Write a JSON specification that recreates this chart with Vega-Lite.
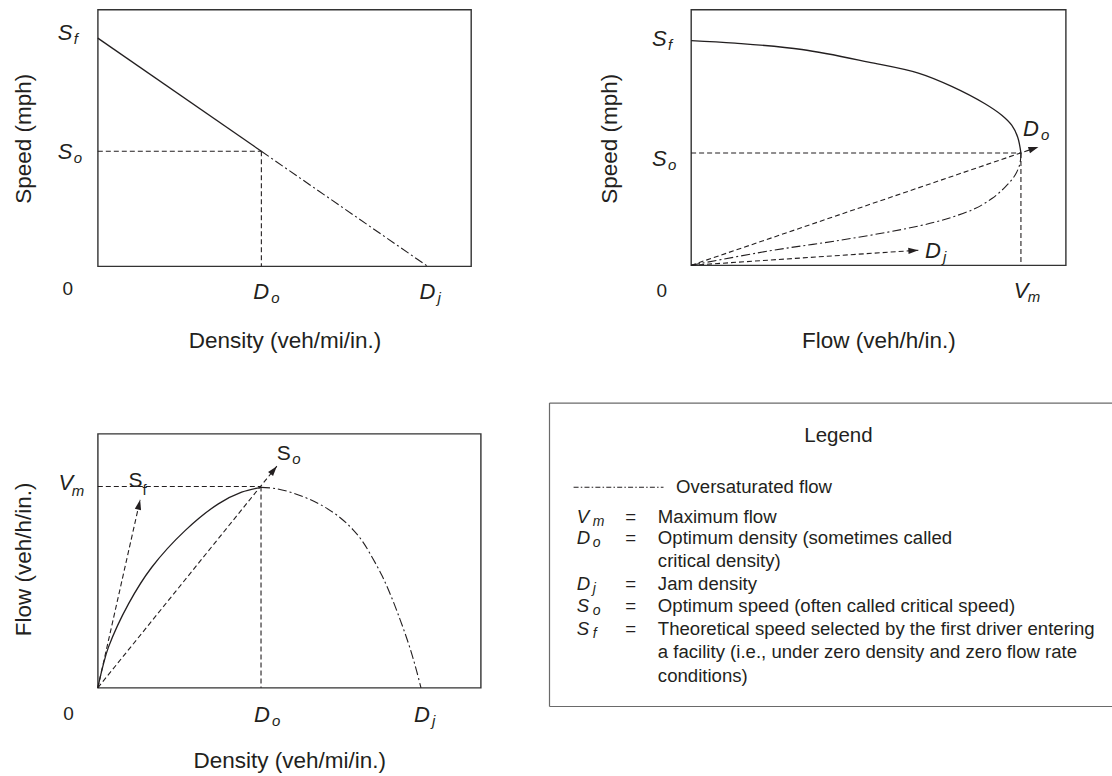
{
  "$schema": "https://vega.github.io/schema/vega-lite/v6.json",
  "background": "white",
  "padding": {"left": 10.8, "top": 8.6, "right": 0, "bottom": 0},
  "autosize": {"type": "pad"},
  "spacing": 49.2,
  "config": {
    "font": "Liberation Sans",
    "view": {"stroke": "#333333", "strokeWidth": 1.4},
    "axis": {"labels": false, "ticks": false, "domain": false, "grid": false, "titleFont": "Liberation Sans", "titleFontSize": 22.5, "titleFontWeight": "normal", "titleColor": "#231f20", "titleBaseline": "middle"},
    "text": {"font": "Liberation Sans", "color": "#231f20"},
    "line": {"color": "#231f20"},
    "rule": {"color": "#231f20"}
  },
  "datasets": {
    "p1": [
      {"seg": "free", "o": 1, "x": 0, "y": 88.9},
      {"seg": "free", "o": 2, "x": 49.6, "y": 44.8},
      {"seg": "sat", "o": 1, "x": 49.6, "y": 44.8},
      {"seg": "sat", "o": 2, "x": 100, "y": 0},
      {"seg": "guide_so", "o": 1, "x": 0, "y": 44.8},
      {"seg": "guide_so", "o": 2, "x": 49.6, "y": 44.8},
      {"seg": "guide_do", "o": 1, "x": 49.6, "y": 44.8},
      {"seg": "guide_do", "o": 2, "x": 49.6, "y": 0}
    ],
    "p1_labels": [
      {"role": "ylab", "x": 0, "y": 91.3, "t": "S", "sub": "f"},
      {"role": "ylab", "x": 0, "y": 44.8, "t": "S", "sub": "o"},
      {"role": "xlab", "x": 49.6, "y": 0, "t": "D", "sub": "o"},
      {"role": "xlab", "x": 100, "y": 0, "t": "D", "sub": "j"},
      {"role": "zero", "x": 0, "y": 0, "t": "0"}
    ],
    "p2": [
      {"seg": "free", "o": 1, "x": 0, "y": 87.9},
      {"seg": "free", "o": 2, "x": 13.3, "y": 86.9},
      {"seg": "free", "o": 3, "x": 33.6, "y": 84.4},
      {"seg": "free", "o": 4, "x": 53.8, "y": 79.5},
      {"seg": "free", "o": 5, "x": 68.9, "y": 75.2},
      {"seg": "free", "o": 6, "x": 79.0, "y": 70.0},
      {"seg": "free", "o": 7, "x": 89.1, "y": 63.2},
      {"seg": "free", "o": 8, "x": 94.2, "y": 58.7},
      {"seg": "free", "o": 9, "x": 97.2, "y": 54.8},
      {"seg": "free", "o": 10, "x": 99.0, "y": 50.2},
      {"seg": "free", "o": 11, "x": 100, "y": 43.9},
      {"seg": "sat", "o": 1, "x": 100, "y": 43.9},
      {"seg": "sat", "o": 2, "x": 99.7, "y": 39.8},
      {"seg": "sat", "o": 3, "x": 98.2, "y": 35.2},
      {"seg": "sat", "o": 4, "x": 95.2, "y": 30.6},
      {"seg": "sat", "o": 5, "x": 91.2, "y": 26.1},
      {"seg": "sat", "o": 6, "x": 86.1, "y": 22.2},
      {"seg": "sat", "o": 7, "x": 80.0, "y": 19.2},
      {"seg": "sat", "o": 8, "x": 74.0, "y": 16.9},
      {"seg": "sat", "o": 9, "x": 63.9, "y": 14.0},
      {"seg": "sat", "o": 10, "x": 43.7, "y": 9.5},
      {"seg": "sat", "o": 11, "x": 23.5, "y": 5.6},
      {"seg": "sat", "o": 12, "x": 0, "y": 0},
      {"seg": "guide_so", "o": 1, "x": 0, "y": 43.9},
      {"seg": "guide_so", "o": 2, "x": 100, "y": 43.9},
      {"seg": "guide_vm", "o": 1, "x": 100, "y": 43.9},
      {"seg": "guide_vm", "o": 2, "x": 100, "y": 0},
      {"seg": "ray_do", "o": 1, "x": 0, "y": 0},
      {"seg": "ray_do", "o": 2, "x": 105.3, "y": 46.3},
      {"seg": "ray_dj", "o": 1, "x": 0, "y": 0},
      {"seg": "ray_dj", "o": 2, "x": 68.9, "y": 5.9}
    ],
    "p2_labels": [
      {"role": "ylab", "x": 0, "y": 89.0, "t": "S", "sub": "f"},
      {"role": "ylab", "x": 0, "y": 41.8, "t": "S", "sub": "o"},
      {"role": "xlab", "x": 100, "y": 0, "t": "V", "sub": "m"},
      {"role": "zero", "x": 0, "y": 0, "t": "0"},
      {"role": "note", "x": 100.6, "y": 53.5, "t": "D", "sub": "o"},
      {"role": "note", "x": 70.9, "y": 5.9, "t": "D", "sub": "j"}
    ],
    "p3": [
      {"seg": "free", "o": 1, "x": 0, "y": 0},
      {"seg": "free", "o": 2, "x": 1.5, "y": 10.3},
      {"seg": "free", "o": 3, "x": 3.3, "y": 20.2},
      {"seg": "free", "o": 4, "x": 9.5, "y": 41.7},
      {"seg": "free", "o": 5, "x": 16.7, "y": 59.9},
      {"seg": "free", "o": 6, "x": 27, "y": 78.1},
      {"seg": "free", "o": 7, "x": 37.3, "y": 91.4},
      {"seg": "free", "o": 8, "x": 44.5, "y": 97.2},
      {"seg": "free", "o": 9, "x": 50.5, "y": 99.6},
      {"seg": "sat", "o": 1, "x": 50.5, "y": 99.6},
      {"seg": "sat", "o": 2, "x": 55, "y": 99.0},
      {"seg": "sat", "o": 3, "x": 60, "y": 97.0},
      {"seg": "sat", "o": 4, "x": 65, "y": 94.0},
      {"seg": "sat", "o": 5, "x": 70, "y": 90.0},
      {"seg": "sat", "o": 6, "x": 75, "y": 84.5},
      {"seg": "sat", "o": 7, "x": 79, "y": 78.5},
      {"seg": "sat", "o": 8, "x": 82, "y": 72.5},
      {"seg": "sat", "o": 9, "x": 85, "y": 64.5},
      {"seg": "sat", "o": 10, "x": 88, "y": 55.5},
      {"seg": "sat", "o": 11, "x": 91, "y": 44.5},
      {"seg": "sat", "o": 12, "x": 93.5, "y": 34},
      {"seg": "sat", "o": 13, "x": 95.5, "y": 25},
      {"seg": "sat", "o": 14, "x": 97.3, "y": 16},
      {"seg": "sat", "o": 15, "x": 98.7, "y": 8},
      {"seg": "sat", "o": 16, "x": 100, "y": 0},
      {"seg": "guide_vm", "o": 1, "x": 0, "y": 100},
      {"seg": "guide_vm", "o": 2, "x": 50.5, "y": 100},
      {"seg": "guide_do", "o": 1, "x": 50.5, "y": 100},
      {"seg": "guide_do", "o": 2, "x": 50.5, "y": 0},
      {"seg": "ray_so", "o": 1, "x": 0, "y": 0},
      {"seg": "ray_so", "o": 2, "x": 55.4, "y": 110.1},
      {"seg": "ray_sf", "o": 1, "x": 0, "y": 0},
      {"seg": "ray_sf", "o": 2, "x": 13.1, "y": 93.4}
    ],
    "p3_labels": [
      {"role": "ylab", "x": 0, "y": 102.1, "t": "V", "sub": "m"},
      {"role": "xlab", "x": 50.5, "y": 0, "t": "D", "sub": "o"},
      {"role": "xlab", "x": 100, "y": 0, "t": "D", "sub": "j"},
      {"role": "zero", "x": 0, "y": 0, "t": "0"},
      {"role": "note", "x": 9.5, "y": 103.3, "t": "S", "sub": "f"},
      {"role": "note", "x": 55.4, "y": 116.5, "t": "S", "sub": "o"}
    ],
    "legend_head": [{"text": "Legend", "line": 0.075}],
    "legend_key": [{"text": "Oversaturated flow", "line": 2.35}],
    "legend_items": [
      {"line": 3.64, "sym": "V", "sub": "m", "eq": "=", "desc": "Maximum flow"},
      {"line": 4.58, "sym": "D", "sub": "o", "eq": "=", "desc": "Optimum density (sometimes called"},
      {"line": 5.61, "desc": "critical density)"},
      {"line": 6.60, "sym": "D", "sub": "j", "eq": "=", "desc": "Jam density"},
      {"line": 7.56, "sym": "S", "sub": "o", "eq": "=", "desc": "Optimum speed (often called critical speed)"},
      {"line": 8.58, "sym": "S", "sub": "f", "eq": "=", "desc": "Theoretical speed selected by the first driver entering"},
      {"line": 9.61, "desc": "a facility (i.e., under zero density and zero flow rate"},
      {"line": 10.64, "desc": "conditions)"}
    ]
  },
  "vconcat": [
    {
      "hconcat": [
        {
          "width": 373.3,
          "height": 256.7,
          "data": {"name": "p1"},
          "encoding": {
            "x": {"field": "x", "type": "quantitative", "scale": {"domain": [0, 113.2], "nice": false, "zero": false}, "axis": {"title": "Density (veh/mi/in.)", "titleY": 74}},
            "y": {"field": "y", "type": "quantitative", "scale": {"domain": [0, 100], "nice": false, "zero": false}, "axis": {"title": "Speed (mph)", "titleX": -74.5, "titleY": 128.7}}
          },
          "layer": [
            {"transform": [{"filter": {"field": "seg", "equal": "free"}}], "mark": {"type": "line", "strokeWidth": 1.3}, "encoding": {"order": {"field": "o", "type": "quantitative"}}},
            {"transform": [{"filter": {"field": "seg", "equal": "sat"}}], "mark": {"type": "line", "strokeWidth": 1.1, "strokeDash": [9, 3, 2, 3]}, "encoding": {"order": {"field": "o", "type": "quantitative"}}},
            {"transform": [{"filter": {"field": "seg", "oneOf": ["guide_so", "guide_do"]}}], "mark": {"type": "line", "strokeWidth": 1.1, "strokeDash": [5, 3]}, "encoding": {"detail": {"field": "seg"}, "order": {"field": "o", "type": "quantitative"}}},
            {"data": {"name": "p1_labels"}, "transform": [{"filter": {"field": "role", "equal": "ylab"}}], "mark": {"type": "text", "align": "left", "baseline": "middle", "dx": -40, "dy": 1, "fontSize": 22, "fontStyle": "italic"}, "encoding": {"text": {"field": "t"}}},
            {"data": {"name": "p1_labels"}, "transform": [{"filter": {"field": "role", "equal": "ylab"}}], "mark": {"type": "text", "align": "left", "baseline": "middle", "dx": -24, "dy": 7, "fontSize": 15, "fontStyle": "italic"}, "encoding": {"text": {"field": "sub"}}},
            {"data": {"name": "p1_labels"}, "transform": [{"filter": {"field": "role", "equal": "xlab"}}], "mark": {"type": "text", "align": "left", "baseline": "middle", "dx": -8, "dy": 26, "fontSize": 22, "fontStyle": "italic"}, "encoding": {"text": {"field": "t"}}},
            {"data": {"name": "p1_labels"}, "transform": [{"filter": {"field": "role", "equal": "xlab"}}], "mark": {"type": "text", "align": "left", "baseline": "middle", "dx": 10, "dy": 32, "fontSize": 15, "fontStyle": "italic"}, "encoding": {"text": {"field": "sub"}}},
            {"data": {"name": "p1_labels"}, "transform": [{"filter": {"field": "role", "equal": "zero"}}], "mark": {"type": "text", "align": "center", "baseline": "middle", "dx": -30, "dy": 22.3, "fontSize": 19}, "encoding": {"text": {"field": "t"}}}
          ]
        },
        {
          "width": 374.7,
          "height": 255.7,
          "data": {"name": "p2"},
          "encoding": {
            "x": {"field": "x", "type": "quantitative", "scale": {"domain": [0, 113.6], "nice": false, "zero": false}, "axis": {"title": "Flow (veh/h/in.)", "titleY": 75}},
            "y": {"field": "y", "type": "quantitative", "scale": {"domain": [0, 100], "nice": false, "zero": false}, "axis": {"title": "Speed (mph)", "titleX": -82, "titleY": 128.7}}
          },
          "layer": [
            {"transform": [{"filter": {"field": "seg", "equal": "free"}}], "mark": {"type": "line", "strokeWidth": 1.3, "interpolate": "catmull-rom"}, "encoding": {"order": {"field": "o", "type": "quantitative"}}},
            {"transform": [{"filter": {"field": "seg", "equal": "sat"}}], "mark": {"type": "line", "strokeWidth": 1.1, "strokeDash": [9, 3, 2, 3], "interpolate": "catmull-rom"}, "encoding": {"order": {"field": "o", "type": "quantitative"}}},
            {"transform": [{"filter": {"field": "seg", "oneOf": ["guide_so", "guide_vm", "ray_do", "ray_dj"]}}], "mark": {"type": "line", "strokeWidth": 1.1, "strokeDash": [5, 3]}, "encoding": {"detail": {"field": "seg"}, "order": {"field": "o", "type": "quantitative"}}},
            {"transform": [{"filter": "datum.seg === 'ray_do' && datum.o === 2"}], "mark": {"type": "point", "shape": "M0,0L-1,-0.32L-1,0.32Z", "filled": true, "size": 400, "angle": -18.8, "opacity": 1, "color": "#231f20", "strokeWidth": 0}},
            {"transform": [{"filter": "datum.seg === 'ray_dj' && datum.o === 2"}], "mark": {"type": "point", "shape": "M0,0L-1,-0.32L-1,0.32Z", "filled": true, "size": 400, "angle": -3.8, "opacity": 1, "color": "#231f20", "strokeWidth": 0}},
            {"data": {"name": "p2_labels"}, "transform": [{"filter": {"field": "role", "equal": "ylab"}}], "mark": {"type": "text", "align": "left", "baseline": "middle", "dx": -39, "dy": 1, "fontSize": 22, "fontStyle": "italic"}, "encoding": {"text": {"field": "t"}}},
            {"data": {"name": "p2_labels"}, "transform": [{"filter": {"field": "role", "equal": "ylab"}}], "mark": {"type": "text", "align": "left", "baseline": "middle", "dx": -23, "dy": 7, "fontSize": 15, "fontStyle": "italic"}, "encoding": {"text": {"field": "sub"}}},
            {"data": {"name": "p2_labels"}, "transform": [{"filter": {"field": "role", "equal": "xlab"}}], "mark": {"type": "text", "align": "left", "baseline": "middle", "dx": -7.3, "dy": 26, "fontSize": 22, "fontStyle": "italic"}, "encoding": {"text": {"field": "t"}}},
            {"data": {"name": "p2_labels"}, "transform": [{"filter": {"field": "role", "equal": "xlab"}}], "mark": {"type": "text", "align": "left", "baseline": "middle", "dx": 6.7, "dy": 32, "fontSize": 15, "fontStyle": "italic"}, "encoding": {"text": {"field": "sub"}}},
            {"data": {"name": "p2_labels"}, "transform": [{"filter": {"field": "role", "equal": "zero"}}], "mark": {"type": "text", "align": "center", "baseline": "middle", "dx": -29.3, "dy": 25.3, "fontSize": 19}, "encoding": {"text": {"field": "t"}}},
            {"data": {"name": "p2_labels"}, "transform": [{"filter": {"field": "role", "equal": "note"}}], "mark": {"type": "text", "align": "left", "baseline": "middle", "dx": 0, "dy": 1, "fontSize": 22, "fontStyle": "italic"}, "encoding": {"text": {"field": "t"}}},
            {"data": {"name": "p2_labels"}, "transform": [{"filter": {"field": "role", "equal": "note"}}], "mark": {"type": "text", "align": "left", "baseline": "middle", "dx": 18, "dy": 7, "fontSize": 15, "fontStyle": "italic"}, "encoding": {"text": {"field": "sub"}}}
          ]
        }
      ],
      "spacing": 219.3,
      "bounds": "flush"
    },
    {
      "hconcat": [
        {
          "width": 383,
          "height": 254,
          "data": {"name": "p3"},
          "encoding": {
            "x": {"field": "x", "type": "quantitative", "scale": {"domain": [0, 118.5], "nice": false, "zero": false}, "axis": {"title": "Density (veh/mi/in.)", "titleY": 73}},
            "y": {"field": "y", "type": "quantitative", "scale": {"domain": [0, 126.2], "nice": false, "zero": false}, "axis": {"title": "Flow (veh/h/in.)", "titleX": -74.5, "titleY": 125}}
          },
          "layer": [
            {"transform": [{"filter": {"field": "seg", "equal": "free"}}], "mark": {"type": "line", "strokeWidth": 1.3, "interpolate": "catmull-rom"}, "encoding": {"order": {"field": "o", "type": "quantitative"}}},
            {"transform": [{"filter": {"field": "seg", "equal": "sat"}}], "mark": {"type": "line", "strokeWidth": 1.1, "strokeDash": [9, 3, 2, 3], "interpolate": "catmull-rom"}, "encoding": {"order": {"field": "o", "type": "quantitative"}}},
            {"transform": [{"filter": {"field": "seg", "oneOf": ["guide_vm", "guide_do", "ray_so", "ray_sf"]}}], "mark": {"type": "line", "strokeWidth": 1.1, "strokeDash": [5, 3]}, "encoding": {"detail": {"field": "seg"}, "order": {"field": "o", "type": "quantitative"}}},
            {"transform": [{"filter": "datum.seg === 'ray_so' && datum.o === 2"}], "mark": {"type": "point", "shape": "M0,0L-1,-0.32L-1,0.32Z", "filled": true, "size": 400, "angle": -51, "opacity": 1, "color": "#231f20", "strokeWidth": 0}},
            {"transform": [{"filter": "datum.seg === 'ray_sf' && datum.o === 2"}], "mark": {"type": "point", "shape": "M0,0L-1,-0.32L-1,0.32Z", "filled": true, "size": 400, "angle": -77.3, "opacity": 1, "color": "#231f20", "strokeWidth": 0}},
            {"data": {"name": "p3_labels"}, "transform": [{"filter": {"field": "role", "equal": "ylab"}}], "mark": {"type": "text", "align": "left", "baseline": "middle", "dx": -39.3, "dy": 1, "fontSize": 22, "fontStyle": "italic"}, "encoding": {"text": {"field": "t"}}},
            {"data": {"name": "p3_labels"}, "transform": [{"filter": {"field": "role", "equal": "ylab"}}], "mark": {"type": "text", "align": "left", "baseline": "middle", "dx": -26, "dy": 9, "fontSize": 15, "fontStyle": "italic"}, "encoding": {"text": {"field": "sub"}}},
            {"data": {"name": "p3_labels"}, "transform": [{"filter": {"field": "role", "equal": "xlab"}}], "mark": {"type": "text", "align": "left", "baseline": "middle", "dx": -7, "dy": 27, "fontSize": 22, "fontStyle": "italic"}, "encoding": {"text": {"field": "t"}}},
            {"data": {"name": "p3_labels"}, "transform": [{"filter": {"field": "role", "equal": "xlab"}}], "mark": {"type": "text", "align": "left", "baseline": "middle", "dx": 11, "dy": 33, "fontSize": 15, "fontStyle": "italic"}, "encoding": {"text": {"field": "sub"}}},
            {"data": {"name": "p3_labels"}, "transform": [{"filter": {"field": "role", "equal": "zero"}}], "mark": {"type": "text", "align": "center", "baseline": "middle", "dx": -29.3, "dy": 26.4, "fontSize": 19}, "encoding": {"text": {"field": "t"}}},
            {"data": {"name": "p3_labels"}, "transform": [{"filter": {"field": "role", "equal": "note"}}], "mark": {"type": "text", "align": "left", "baseline": "middle", "dx": 0, "dy": 1, "fontSize": 21}, "encoding": {"text": {"field": "t"}}},
            {"data": {"name": "p3_labels"}, "transform": [{"filter": "datum.role === 'note' && datum.sub === 'f'"}], "mark": {"type": "text", "align": "left", "baseline": "middle", "dx": 14, "dy": 10.5, "fontSize": 15}, "encoding": {"text": {"field": "sub"}}},
            {"data": {"name": "p3_labels"}, "transform": [{"filter": "datum.role === 'note' && datum.sub === 'o'"}], "mark": {"type": "text", "align": "left", "baseline": "middle", "dx": 15.5, "dy": 6, "fontSize": 15, "fontStyle": "italic"}, "encoding": {"text": {"field": "sub"}}}
          ]
        },
        {
          "width": 564.3,
          "height": 272.7,
          "view": {"stroke": null},
          "layer": [
            {"data": {"name": "legend_head"}, "mark": {"type": "rule", "color": "#6a6a6a", "strokeWidth": 1.2}, "encoding": {"x": {"datum": 0, "type": "quantitative", "scale": {"domain": [0, 30], "nice": false, "zero": false}, "axis": null}, "x2": {"datum": 29.95}, "y": {"datum": -1.35, "type": "quantitative", "scale": {"domain": [0, 12], "reverse": true, "nice": false, "zero": false}, "axis": null}}},
            {"data": {"name": "legend_head"}, "mark": {"type": "rule", "color": "#6a6a6a", "strokeWidth": 1.2}, "encoding": {"x": {"datum": 0, "type": "quantitative", "scale": {"domain": [0, 30], "nice": false, "zero": false}, "axis": null}, "x2": {"datum": 29.95}, "y": {"datum": 12, "type": "quantitative", "scale": {"domain": [0, 12], "reverse": true, "nice": false, "zero": false}, "axis": null}}},
            {"data": {"name": "legend_head"}, "mark": {"type": "rule", "color": "#6a6a6a", "strokeWidth": 1.2}, "encoding": {"x": {"datum": 0, "type": "quantitative", "scale": {"domain": [0, 30], "nice": false, "zero": false}, "axis": null}, "y": {"datum": -1.35, "type": "quantitative", "scale": {"domain": [0, 12], "reverse": true, "nice": false, "zero": false}, "axis": null}, "y2": {"datum": 12}}},
            {"data": {"name": "legend_head"}, "mark": {"type": "text", "align": "center", "baseline": "middle", "fontSize": 20.5}, "encoding": {"x": {"datum": 15.36, "type": "quantitative", "scale": {"domain": [0, 30], "nice": false, "zero": false}, "axis": null}, "y": {"field": "line", "type": "quantitative", "scale": {"domain": [0, 12], "reverse": true, "nice": false, "zero": false}, "axis": null}, "text": {"field": "text"}}},
            {"data": {"name": "legend_key"}, "mark": {"type": "rule", "strokeWidth": 1.1, "strokeDash": [5, 2.2, 1.5, 2.2]}, "encoding": {"x": {"datum": 1.28, "type": "quantitative", "scale": {"domain": [0, 30], "nice": false, "zero": false}, "axis": null}, "x2": {"datum": 6.06}, "y": {"field": "line", "type": "quantitative", "scale": {"domain": [0, 12], "reverse": true, "nice": false, "zero": false}, "axis": null}}},
            {"data": {"name": "legend_key"}, "mark": {"type": "text", "align": "left", "baseline": "middle", "fontSize": 18.6}, "encoding": {"x": {"datum": 6.73, "type": "quantitative", "scale": {"domain": [0, 30], "nice": false, "zero": false}, "axis": null}, "y": {"field": "line", "type": "quantitative", "scale": {"domain": [0, 12], "reverse": true, "nice": false, "zero": false}, "axis": null}, "text": {"field": "text"}}},
            {"data": {"name": "legend_items"}, "transform": [{"filter": "isValid(datum.sym)"}], "mark": {"type": "text", "align": "left", "baseline": "middle", "fontSize": 18.6, "fontStyle": "italic"}, "encoding": {"x": {"datum": 1.45, "type": "quantitative", "scale": {"domain": [0, 30], "nice": false, "zero": false}, "axis": null}, "y": {"field": "line", "type": "quantitative", "scale": {"domain": [0, 12], "reverse": true, "nice": false, "zero": false}, "axis": null}, "text": {"field": "sym"}}},
            {"data": {"name": "legend_items"}, "transform": [{"filter": "isValid(datum.sub)"}], "mark": {"type": "text", "align": "left", "baseline": "middle", "fontSize": 14, "fontStyle": "italic", "dx": 16, "dy": 5.5}, "encoding": {"x": {"datum": 1.45, "type": "quantitative", "scale": {"domain": [0, 30], "nice": false, "zero": false}, "axis": null}, "y": {"field": "line", "type": "quantitative", "scale": {"domain": [0, 12], "reverse": true, "nice": false, "zero": false}, "axis": null}, "text": {"field": "sub"}}},
            {"data": {"name": "legend_items"}, "transform": [{"filter": "isValid(datum.eq)"}], "mark": {"type": "text", "align": "center", "baseline": "middle", "fontSize": 18.6}, "encoding": {"x": {"datum": 4.32, "type": "quantitative", "scale": {"domain": [0, 30], "nice": false, "zero": false}, "axis": null}, "y": {"field": "line", "type": "quantitative", "scale": {"domain": [0, 12], "reverse": true, "nice": false, "zero": false}, "axis": null}, "text": {"field": "eq"}}},
            {"data": {"name": "legend_items"}, "mark": {"type": "text", "align": "left", "baseline": "middle", "fontSize": 18.6}, "encoding": {"x": {"datum": 5.76, "type": "quantitative", "scale": {"domain": [0, 30], "nice": false, "zero": false}, "axis": null}, "y": {"field": "line", "type": "quantitative", "scale": {"domain": [0, 12], "reverse": true, "nice": false, "zero": false}, "axis": null}, "text": {"field": "desc"}}}
          ]
        }
      ],
      "spacing": 68.7,
      "bounds": "flush"
    }
  ]
}
